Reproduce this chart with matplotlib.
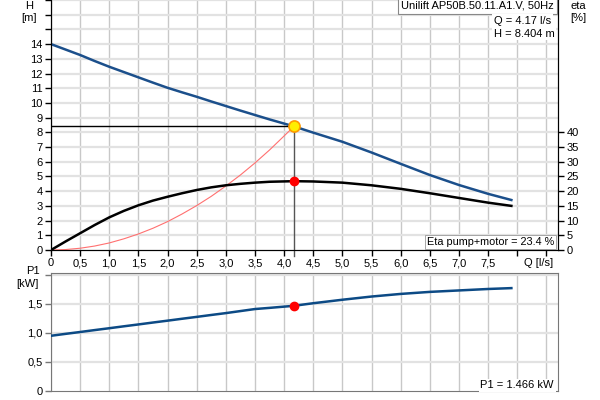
import matplotlib
matplotlib.use('Agg')
import matplotlib.pyplot as plt

plt.rcParams['font.family'] = ['Liberation Sans', 'DejaVu Sans']
plt.rcParams['font.size'] = 8

# pump curve data
q = [0, 0.25, 0.5, 0.75, 1.0, 1.25, 1.5, 1.75, 2.0, 2.25, 2.5, 2.75, 3.0, 3.25, 3.5, 3.75, 4.17,
     4.5, 5.0, 5.5, 6.0, 6.5, 7.0, 7.5, 7.9]
head = [14.0, 13.63, 13.26, 12.85, 12.46, 12.10, 11.74, 11.38, 11.03, 10.72, 10.42, 10.10, 9.79, 9.48, 9.18, 8.88, 8.404,
        7.98, 7.36, 6.63, 5.86, 5.10, 4.42, 3.82, 3.40]
eta = [0, 2.9, 5.7, 8.5, 11.1, 13.3, 15.2, 16.8, 18.1, 19.3, 20.4, 21.3, 22.0, 22.5, 22.9, 23.2, 23.4,
       23.3, 22.9, 22.0, 20.8, 19.3, 17.7, 16.1, 15.0]
p1 = [0.95, 0.983, 1.015, 1.048, 1.08, 1.113, 1.145, 1.178, 1.21, 1.243, 1.275, 1.308, 1.34, 1.375, 1.41, 1.43, 1.466,
      1.51, 1.57, 1.625, 1.67, 1.705, 1.73, 1.755, 1.77]

# system curve
q_sys = [0, 0.25, 0.5, 0.75, 1.0, 1.25, 1.5, 1.75, 2.0, 2.25, 2.5, 2.75, 3.0, 3.25, 3.5, 3.75, 4.17]
h_sys = [0, 0.03, 0.12, 0.27, 0.48, 0.76, 1.09, 1.48, 1.93, 2.45, 3.02, 3.65, 4.35, 5.10, 5.92, 6.80, 8.404]

# duty point
q_op = 4.17
h_op = 8.404
eta_op = 23.4
p1_op = 1.466

x_ticks = [i * 0.5 for i in range(18)]
x_labels = ['0'] + [('%.1f' % t).replace('.', ',') for t in x_ticks[1:16]] + ['', '']
h_ticks = list(range(18))
h_labels = [str(t) for t in range(15)] + ['', '', '']
eta_ticks = list(range(0, 45, 5))
p1_ticks = [0, 0.5, 1.0, 1.5, 2.0]
p1_labels = ['0', '0,5', '1,0', '1,5', '']

blue = '#1b4f8b'
vgrid = '#c8c8c8'
hgrid = '#e2e2e2'

fig = plt.figure(figsize=(6, 4), dpi=100)
ax = fig.add_axes([0.085, 0.375, 0.845, 0.625])
ax2 = ax.twinx()
axp = fig.add_axes([0.085, 0.0225, 0.845, 0.295])

# --- top chart ---
ax.set_xlim(0, 8.7)
ax.set_ylim(0, 17)
ax2.set_ylim(0, 85)
ax.set_xticks(x_ticks)
ax.set_xticklabels(x_labels)
ax.set_yticks(h_ticks)
ax.set_yticklabels(h_labels)
ax2.set_yticks(eta_ticks)
for t in x_ticks:
    ax.axvline(t, color=vgrid, lw=1, zorder=0)
for t in h_ticks[1:]:
    ax.axhline(t, color=hgrid, lw=1.6, zorder=0)
ax.spines['top'].set_visible(False)
ax2.spines['top'].set_visible(False)
ax.tick_params(length=4, width=1, pad=2)
ax2.tick_params(length=4, width=1, pad=2)

ax.plot(q_sys, h_sys, color='#ff7070', lw=0.8, zorder=3)
ax.plot([0, q_op], [h_op, h_op], color='black', lw=1, zorder=3)
ax.plot([q_op, q_op], [-0.4, h_op], color='#555555', lw=1, zorder=3, clip_on=False)
ax.plot(q, head, color=blue, lw=1.8, zorder=4)
ax2.plot(q, eta, color='black', lw=1.8, zorder=4)
ax2.plot(q_op, eta_op, 'o', color='red', ms=6, zorder=5)
ax.plot(q_op, h_op, 'o', mfc='#ffee00', mec='#ff9a00', mew=1.2, ms=8, zorder=6)

fig.text(29 / 600, 1 - 6 / 400, 'H', ha='center', va='center', fontsize=8)
fig.text(29 / 600, 1 - 18 / 400, '[m]', ha='center', va='center', fontsize=8)
fig.text(578 / 600, 1 - 6 / 400, 'eta', ha='center', va='center', fontsize=8)
fig.text(578 / 600, 1 - 18 / 400, '[%]', ha='center', va='center', fontsize=8)
ax.text(8.37, -0.55, 'Q [l/s]', ha='center', va='top', fontsize=8)

ax.text(8.63, 16.6, 'Unilift AP50B.50.11.A1.V, 50Hz', ha='right', va='center', fontsize=8,
        bbox=dict(boxstyle='square,pad=0.25', fc='white', ec='#888888', lw=0.8), zorder=7)
ax.text(7.6, 15.6, 'Q = 4.17 l/s', ha='left', va='center', fontsize=8,
        bbox=dict(boxstyle='square,pad=0.15', fc='white', ec='none'), zorder=7)
ax.text(7.6, 14.7, 'H = 8.404 m', ha='left', va='center', fontsize=8,
        bbox=dict(boxstyle='square,pad=0.15', fc='white', ec='none'), zorder=7)
ax.text(8.63, 0.55, 'Eta pump+motor = 23.4 %', ha='right', va='center', fontsize=7.8,
        bbox=dict(boxstyle='square,pad=0.2', fc='white', ec='#999999', lw=0.6), zorder=7)

# --- power chart ---
axp.set_xlim(0, 8.7)
axp.set_ylim(0, 2.03)
axp.set_xticks(x_ticks)
axp.set_xticklabels([])
axp.set_yticks(p1_ticks)
axp.set_yticklabels(p1_labels)
for t in x_ticks:
    axp.axvline(t, color=vgrid, lw=1, zorder=0)
for t in p1_ticks[1:]:
    axp.axhline(t, color=hgrid, lw=1.6, zorder=0)
for s in axp.spines.values():
    s.set_color('#777777')
axp.tick_params(axis='x', length=0)
axp.tick_params(axis='y', length=4, width=1, pad=2, color='#777777')

axp.plot(q, p1, color='#0c4a85', lw=1.8, zorder=4)
axp.plot(q_op, p1_op, 'o', color='red', ms=6, zorder=5)

fig.text(33 / 600, 1 - 271 / 400, 'P1', ha='center', va='center', fontsize=8)
fig.text(27 / 600, 1 - 284 / 400, '[kW]', ha='center', va='center', fontsize=8)
axp.text(8.63, 0.1, 'P1 = 1.466 kW', ha='right', va='center', fontsize=8,
         bbox=dict(boxstyle='square,pad=0.15', fc='white', ec='none'), zorder=7)

fig.savefig('out.png', dpi=100)
